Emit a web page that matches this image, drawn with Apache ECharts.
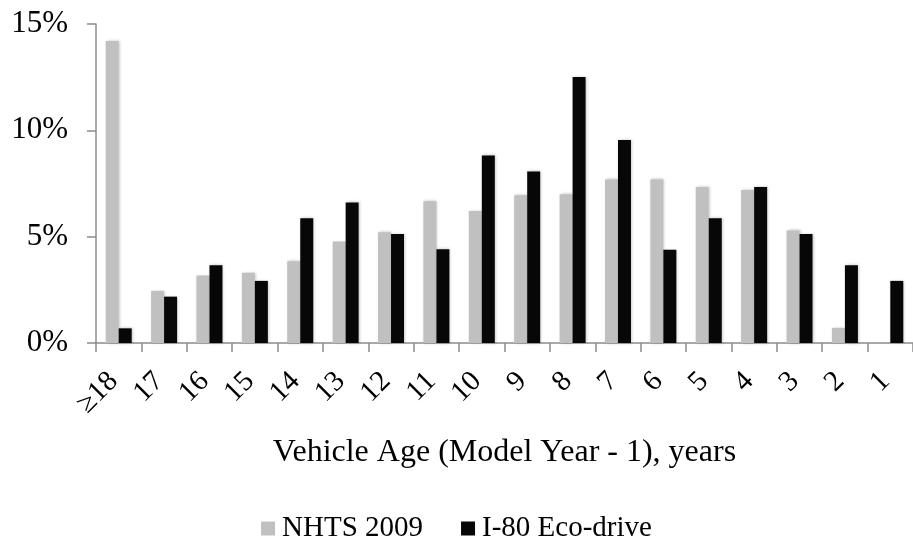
<!DOCTYPE html>
<html>
<head>
<meta charset="utf-8">
<script src="https://cdn.jsdelivr.net/npm/echarts@6/dist/echarts.min.js"></script>
<style>
  html, body { margin: 0; padding: 0; background: #fff; }
  #chart { width: 913px; height: 540px; }
</style>
</head>
<body>
<div id="chart"></div>
<script>
// vehicle age categories, oldest first
const ages = ['≥18', '17', '16', '15', '14', '13', '12', '11', '10', '9', '8', '7', '6', '5', '4', '3', '2', '1']
// share of vehicles, percent
const nhts2009 = [14.2, 2.45, 3.17, 3.3, 3.84, 4.77, 5.21, 6.67, 6.21, 6.95, 7.0, 7.69, 7.69, 7.33, 7.19, 5.29, 0.71, 0]
const i80EcoDrive = [0.69, 2.18, 3.66, 2.92, 5.87, 6.61, 5.13, 4.41, 8.82, 8.07, 12.51, 9.54, 4.39, 5.87, 7.33, 5.13, 3.66, 2.92]
const yTicks = [0, 5, 10, 15]

const font = '"Liberation Serif", "Times New Roman", serif'
const axisGray = '#8c8c8c'

const barShadow = {
  shadowBlur: 3,
  shadowColor: 'rgba(0,0,0,0.25)',
  shadowOffsetX: 1,
  shadowOffsetY: 0
}

const option = {
  animation: false,
  textStyle: { fontFamily: font, color: '#000' },
  grid: {
    left: 96,
    top: 24,
    width: 822,
    height: 319
  },
  legend: {
    data: ['NHTS 2009', 'I-80 Eco-drive'],
    left: 'center',
    top: 509,
    itemWidth: 14,
    itemHeight: 14,
    itemGap: 38,
    icon: 'rect',
    textStyle: { fontFamily: font, fontSize: 29, color: '#000', padding: [0, 0, 0, 2] }
  },
  xAxis: {
    type: 'category',
    data: ages,
    name: 'Vehicle Age (Model Year - 1), years',
    nameLocation: 'middle',
    nameGap: 94,
    nameTextStyle: { fontFamily: font, fontSize: 32, color: '#000' },
    axisLine: { lineStyle: { color: axisGray, width: 1.5 } },
    axisTick: { show: true, length: 9, lineStyle: { color: axisGray, width: 1.5 } },
    axisLabel: {
      interval: 0,
      rotate: 45,
      margin: 29,
      padding: [0, 7, 0, 0],
      fontFamily: font,
      fontSize: 29,
      color: '#000'
    },
    splitLine: { show: false }
  },
  yAxis: {
    type: 'value',
    min: yTicks[0],
    max: yTicks[yTicks.length - 1],
    interval: yTicks[1] - yTicks[0],
    axisLine: { show: true, lineStyle: { color: axisGray, width: 1.5 } },
    axisTick: { show: true, length: 9, lineStyle: { color: axisGray, width: 1.5 } },
    axisLabel: {
      margin: 28,
      fontFamily: font,
      fontSize: 31,
      color: '#000',
      formatter: '{value}%'
    },
    splitLine: { show: false }
  },
  series: [
    {
      name: 'NHTS 2009',
      type: 'bar',
      data: nhts2009,
      barWidth: 13,
      barGap: '0%',
      itemStyle: Object.assign({ color: '#c0c0c0' }, barShadow)
    },
    {
      name: 'I-80 Eco-drive',
      type: 'bar',
      data: i80EcoDrive,
      barWidth: 13,
      barGap: '0%',
      itemStyle: Object.assign({ color: '#070707' }, barShadow)
    }
  ]
}

const myChart = echarts.init(document.getElementById('chart'))
myChart.setOption(option)
</script>
</body>
</html>
